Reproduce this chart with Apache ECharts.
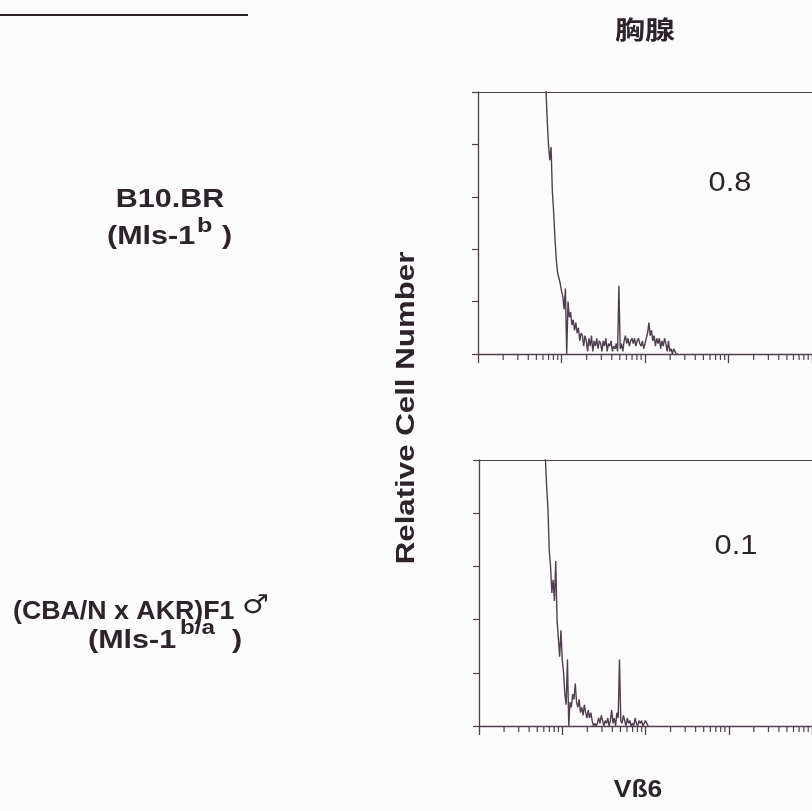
<!DOCTYPE html>
<html><head><meta charset="utf-8">
<script src="https://cdn.jsdelivr.net/npm/echarts@6/dist/echarts.min.js"></script>
<style>html,body{margin:0;padding:0;background:#fcfcfc}#c{width:812px;height:811px}</style>
</head><body><div id="c"></div>
<script>
// ---- data ----
const tissueTitle = '胸腺';
const xAxisTitle = 'Vß6';
const yAxisTitle = 'Relative Cell Number';
const strainNames = ['B10.BR', '(CBA/N x AKR)F1'];
const mlsTypes = ['b', 'b/a'];
const percentLabels = ['0.8', '0.1'];

// histogram: channel (256 channels over 4 log decades) and relative counts (>100 = off scale)
const channelStart1 = 46;
const counts1 = [400,330,260,210,170,130,102,90,80,74,79,62,54,44,36,31,29,27,24,22,17,25,0,20,14,16,11,13,9,12,8,10,5,8,7,3,7,5,1,6,3,7,1,5,3,6,2,5,4,1,5,3,6,1,4,3,5,1,3,2,4,1,26,2,4,1,5,7,4,6,3,5,6,4,6,3,5,6,4,3,5,2,4,6,8,12,7,9,5,7,3,6,4,6,2,5,3,6,4,1,5,1,2,0,2,1,0,0];
const channelStart2 = 46;
const counts2 = [400,300,220,160,125,101,90,82,66,60,50,55,47,62,40,33,26,36,25,20,12,8,25,0,9,7,12,10,16,9,7,10,5,7,4,8,5,3,6,3,5,2,0,1,0,1,3,1,4,2,0,2,1,3,0,2,6,1,3,0,5,3,25,2,1,4,2,0,3,1,2,0,1,0,3,1,0,2,1,2,0,1,2,1,0];

const decades = [0, 1, 2, 3];
const minorFactors = [2, 3, 4, 5, 6, 7, 8, 9];
const channelsPerDecade = 64;

// ---- style ----
const LINE = '#503f4e';
const TEXT = '#2c232b';
const FONT = '"Liberation Sans", Arial, sans-serif';

function toPairs(start, counts) { return counts.map((v, i) => [start + i, v]); }
const minorTickPos = [];
decades.forEach(d => minorFactors.forEach(k => minorTickPos.push([channelsPerDecade * (d + Math.log10(k)), 0])));

const grids = [
  { left: 478, top: 92, width: 335, height: 262 },
  { left: 479, top: 460, width: 334, height: 266 }
];
const xAxes = [], yAxes = [], series = [];
[ [channelStart1, counts1], [channelStart2, counts2] ].forEach((h, gi) => {
  xAxes.push({ gridIndex: gi, type: 'value', min: 0, max: 256, interval: 64, position: 'bottom',
    axisLine: { lineStyle: { color: LINE, width: 1.3 } },
    axisTick: { show: true, length: 9, inside: false, lineStyle: { color: LINE, width: 1.3 } },
    axisLabel: { show: false }, splitLine: { show: false } });
  xAxes.push({ gridIndex: gi, type: 'value', min: 0, max: 256, position: 'top',
    axisLine: { show: true, lineStyle: { color: LINE, width: 1.2 } },
    axisTick: { show: false }, axisLabel: { show: false }, splitLine: { show: false } });
  yAxes.push({ gridIndex: gi, type: 'value', min: 0, max: 100, interval: 20,
    axisLine: { show: true, lineStyle: { color: LINE, width: 1.3 } },
    axisTick: { show: true, length: 6, inside: false, lineStyle: { color: LINE, width: 1.2 } },
    axisLabel: { show: false }, splitLine: { show: false } });
  series.push({ type: 'line', xAxisIndex: gi * 2, yAxisIndex: gi, data: toPairs(h[0], h[1]),
    showSymbol: false, symbol: 'none', clip: true, animation: false,
    lineStyle: { color: LINE, width: 1.4 } });
  series.push({ type: 'custom', xAxisIndex: gi * 2, yAxisIndex: gi, data: minorTickPos, animation: false,
    renderItem: (params, api) => {
      const p = api.coord([api.value(0), 0]);
      return { type: 'line', shape: { x1: p[0], y1: p[1], x2: p[0], y2: p[1] + 6 },
        style: { stroke: LINE, lineWidth: 1.2 } };
    } });
});

function txt(x, y, text, o) {
  return Object.assign({ type: 'text', x: x, y: y, silent: true,
    style: { text: text, fill: TEXT, font: o.font, align: o.align || 'center', verticalAlign: 'middle' } },
    o.rotation ? { rotation: o.rotation } : {}, { scaleX: o.sx || 1 });
}
const B25 = 'bold 25px ' + FONT;
const graphics = [
  { type: 'line', shape: { x1: 0, y1: 15, x2: 248, y2: 15 }, style: { stroke: TEXT, lineWidth: 2.2 } },
  txt(645, 29, tissueTitle, { font: 'bold 25px "Noto Sans CJK JP", sans-serif', sx: 1.2 }),
  txt(170, 200, strainNames[0], { font: B25, sx: 1.22 }),
  txt(107, 237, '(Mls-1', { font: B25, sx: 1.22, align: 'left' }),
  txt(197, 226, mlsTypes[0], { font: 'bold 21px ' + FONT, sx: 1.2, align: 'left' }),
  txt(222, 237, ')', { font: B25, sx: 1.22, align: 'left' }),
  txt(13, 612, strainNames[1], { font: B25, sx: 1.07, align: 'left' }),
  txt(242, 606, '♂', { font: '26px "DejaVu Sans", sans-serif', sx: 1.15, align: 'left' }),
  txt(88, 641, '(Mls-1', { font: B25, sx: 1.22, align: 'left' }),
  txt(180, 628, mlsTypes[1], { font: 'bold 21px ' + FONT, sx: 1.15, align: 'left' }),
  txt(232, 641, ')', { font: B25, sx: 1.22, align: 'left' }),
  txt(407, 408, yAxisTitle, { font: B25, sx: 1.25, rotation: Math.PI / 2 }),
  txt(730, 183, percentLabels[0], { font: '28px ' + FONT, sx: 1.1 }),
  txt(736, 546, percentLabels[1], { font: '28px ' + FONT, sx: 1.1 }),
  txt(638, 791, xAxisTitle, { font: 'bold 23px ' + FONT, sx: 1.15 })
];

const chart = echarts.init(document.getElementById('c'), null, { renderer: 'canvas' });
chart.setOption({
  backgroundColor: '#fcfcfc', animation: false,
  grid: grids, xAxis: xAxes, yAxis: yAxes, series: series, graphic: graphics
});
</script></body></html>
